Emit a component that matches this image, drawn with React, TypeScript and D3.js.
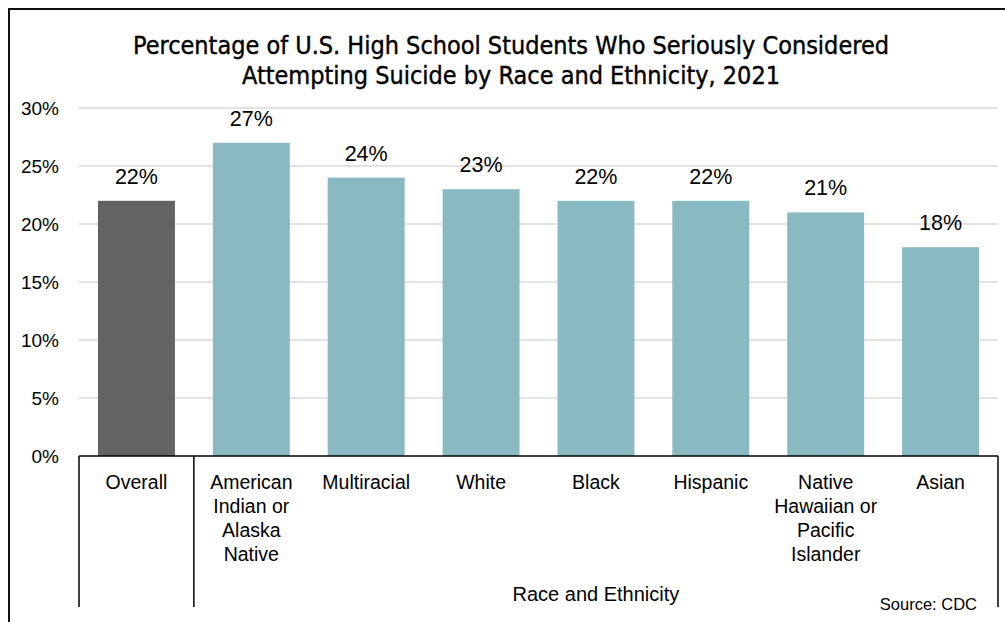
import React from "react";
import * as d3 from "d3";

const categories = ["Overall", "American Indian or Alaska Native", "Multiracial", "White", "Black", "Hispanic", "Native Hawaiian or Pacific Islander", "Asian"];
const categoryLines = [["Overall"], ["American", "Indian or", "Alaska", "Native"], ["Multiracial"], ["White"], ["Black"], ["Hispanic"], ["Native", "Hawaiian or", "Pacific", "Islander"], ["Asian"]];
const values = [22, 27, 24, 23, 22, 22, 21, 18];
const yTicks = [0, 5, 10, 15, 20, 25, 30];
const titleLines = ["Percentage of U.S. High School Students Who Seriously Considered", "Attempting Suicide by Race and Ethnicity, 2021"];

export default function App() {
  const W = 1005, H = 622;
  const left = 79, right = 998, top = 108, bottom = 456;
  const x = d3.scaleBand<string>().domain(categories).range([left, right]).paddingInner(0.33).paddingOuter(0.165);
  const xc = d3.scaleBand<string>().domain(categories).range([left, right]);
  const y = d3.scaleLinear().domain([0, 30]).range([bottom, top]);
  const font = "Arial, 'Liberation Sans', sans-serif";
  const groupStart = xc(categories[1])!;
  return (
    <svg width={W} height={H} style={{ position: "absolute", left: 0, top: 0, background: "#fff" }} fontFamily={font}>
      <rect x={0} y={0} width={W} height={H} fill="#fff" />
      <line x1={8} y1={9} x2={W} y2={9} stroke="#111" strokeWidth={2} />
      <line x1={9} y1={8} x2={9} y2={H} stroke="#111" strokeWidth={2} />
      {titleLines.map((t, i) => (
        <text key={t} x={511} y={54 + i * 30} textAnchor="middle" fontSize={25}
          fontFamily="'Liberation Sans Narrow', 'DejaVu Sans Condensed', Arial, sans-serif"
          textLength={i === 0 ? 756 : 538} lengthAdjust="spacingAndGlyphs" fill="#000"
          stroke="#000" strokeWidth={0.4}>{t}</text>
      ))}
      {yTicks.map(t => (
        <g key={t}>
          {t > 0 && <line x1={left} x2={right} y1={y(t)} y2={y(t)} stroke="#d9d9d9" strokeWidth={1.5} />}
          <text x={59} y={y(t) + 7} textAnchor="end" fontSize={19} fill="#000">{t}%</text>
        </g>
      ))}
      {categories.map((c, i) => (
        <g key={c}>
          <rect x={x(c)} y={y(values[i])} width={x.bandwidth()} height={bottom - y(values[i])} fill={i === 0 ? "#636363" : "#8abac1"} />
          <text x={x(c)! + x.bandwidth() / 2} y={y(values[i]) - 17} textAnchor="middle" fontSize={21.5} fill="#000">{values[i]}%</text>
          {categoryLines[i].map((l, j) => (
            <text key={l} x={xc(c)! + xc.bandwidth() / 2} y={489 + j * 24} textAnchor="middle" fontSize={19.5} fill="#000">{l}</text>
          ))}
        </g>
      ))}
      <line x1={left} x2={right} y1={bottom} y2={bottom} stroke="#000" strokeWidth={1.5} />
      <line x1={left} x2={left} y1={bottom} y2={607} stroke="#000" strokeWidth={1.5} />
      <line x1={groupStart} x2={groupStart} y1={bottom} y2={607} stroke="#000" strokeWidth={1.5} />
      <line x1={right} x2={right} y1={bottom} y2={607} stroke="#000" strokeWidth={1.5} />
      <text x={(groupStart + right) / 2} y={601} textAnchor="middle" fontSize={20} fill="#000">Race and Ethnicity</text>
      <text x={977} y={610} textAnchor="end" fontSize={16.5} fill="#000">Source: CDC</text>
    </svg>
  );
}
